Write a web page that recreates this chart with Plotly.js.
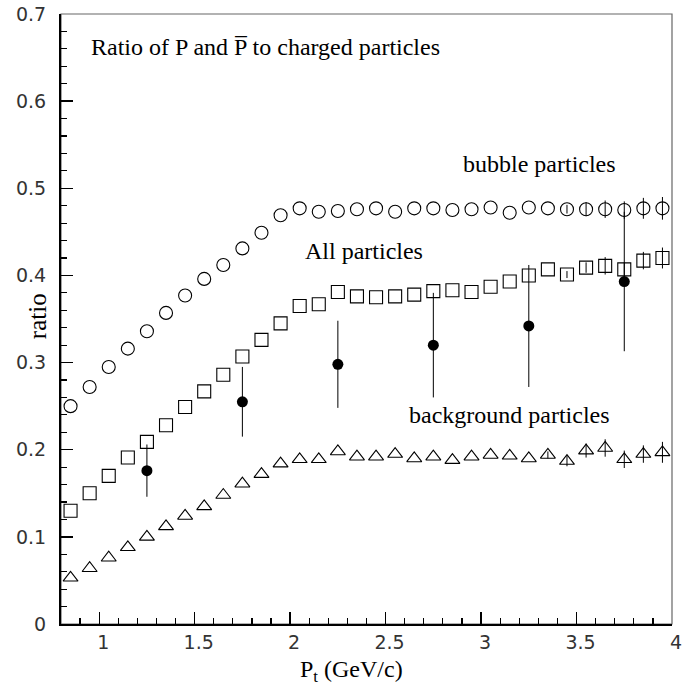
<!DOCTYPE html>
<html>
<head>
<meta charset="utf-8">
<script src="https://cdn.plot.ly/plotly-3.0.1.min.js"></script>
<style>html,body{margin:0;padding:0;background:#fff;}#chart{width:688px;height:688px;}</style>
</head>
<body>
<div id="chart"></div>
<script>
const pt = [0.85,0.95,1.05,1.15,1.25,1.35,1.45,1.55,1.65,1.75,1.85,1.95,2.05,2.15,2.25,2.35,
            2.45,2.55,2.65,2.75,2.85,2.95,3.05,3.15,3.25,3.35,3.45,3.55,3.65,3.75,3.85,3.95];
const bubble = [0.250,0.272,0.295,0.316,0.336,0.357,0.377,0.396,0.412,0.431,0.449,0.469,0.477,0.473,0.474,0.476,
                0.477,0.473,0.477,0.477,0.475,0.476,0.478,0.472,0.478,0.477,0.476,0.476,0.476,0.475,0.477,0.477];
const bubbleErr = [0,0,0,0,0,0,0,0,0,0,0,0,0,0,0,0,0,0,0,0,0,0,0,0,0,0,0.005,0.008,0.010,0.010,0.012,0.013];
const allP = [0.130,0.150,0.170,0.191,0.209,0.228,0.249,0.267,0.286,0.307,0.326,0.345,0.365,0.367,0.381,0.376,
              0.375,0.376,0.378,0.382,0.383,0.381,0.387,0.393,0.400,0.407,0.401,0.409,0.411,0.407,0.417,0.420];
const allErr = [0,0,0,0,0,0,0,0,0,0,0,0,0,0,0,0,0,0,0,0,0,0,0,0,0,0,0.004,0.006,0.010,0.008,0.010,0.012];
const background = [0.053,0.064,0.076,0.088,0.100,0.112,0.124,0.135,0.148,0.161,0.172,0.184,0.189,0.189,0.198,0.192,
                    0.192,0.195,0.190,0.192,0.188,0.192,0.194,0.193,0.190,0.194,0.187,0.199,0.202,0.189,0.195,0.197];
const backgroundErr = [0,0,0,0,0,0,0,0,0,0,0,0,0,0,0,0,0,0,0,0,0,0,0,0,0,0.004,0.006,0.008,0.010,0.010,0.010,0.012];
const ptFilled = [1.25,1.75,2.25,2.75,3.25,3.75];
const filled = [0.176,0.255,0.298,0.320,0.342,0.393];
const filledErr = [0.030,0.040,0.050,0.060,0.070,0.080];
const xTicks = [1,1.5,2,2.5,3,3.5,4];
const xTickText = ['1','1.5','2','2.5','3','3.5','4'];
const yTicks = [0,0.1,0.2,0.3,0.4,0.5,0.6,0.7];
const yTickText = ['0','0.1','0.2','0.3','0.4','0.5','0.6','0.7'];

const errStyle = (arr) => ({type:'data', array:arr, visible:true, thickness:1, width:0, color:'#000'});

const traces = [
  {x:pt, y:bubble, error_y:errStyle(bubbleErr), mode:'markers', type:'scatter', name:'bubble particles',
   marker:{symbol:'circle-open', size:13, color:'#000', line:{width:1.1, color:'#000'}}},
  {x:pt, y:allP, error_y:errStyle(allErr), mode:'markers', type:'scatter', name:'All particles',
   marker:{symbol:'square-open', size:13, color:'#000', line:{width:1.1, color:'#000'}}},
  {x:pt, y:background, error_y:errStyle(backgroundErr), mode:'markers', type:'scatter', name:'background particles',
   marker:{symbol:'triangle-up-open', size:13, color:'#000', line:{width:1.1, color:'#000'}}},
  {x:ptFilled, y:filled, error_y:errStyle(filledErr), mode:'markers', type:'scatter', name:'filled',
   marker:{symbol:'circle', size:11, color:'#000'}}
];

const tickFont = {family:'"DejaVu Sans ExtraLight", "DejaVu Sans", sans-serif', size:19, color:'#333'};
const serif = '"Liberation Serif", "Times New Roman", serif';
const txtFont = {family:serif, size:24, color:'#000'};

const layout = {
  width:688, height:688,
  margin:{l:61, r:16, t:14, b:64},
  paper_bgcolor:'#fff', plot_bgcolor:'#fff',
  showlegend:false,
  xaxis:{
    range:[0.8,4], tickvals:xTicks, ticktext:xTickText,
    ticks:'inside', ticklen:12, tickwidth:1.3, tickcolor:'#000',
    minor:{dtick:0.1, tick0:0.8, ticks:'inside', ticklen:6, tickwidth:1.2, tickcolor:'#000'},
    showline:true, linewidth:2, linecolor:'#000', showgrid:false, zeroline:false,
    tickfont:tickFont, ticklabelstandoff:0, ticklabelshift:4
  },
  yaxis:{
    range:[0,0.7], tickvals:yTicks, ticktext:yTickText,
    ticks:'inside', ticklen:12, tickwidth:1.3, tickcolor:'#000',
    minor:{dtick:0.02, tick0:0, ticks:'inside', ticklen:6, tickwidth:1.2, tickcolor:'#000'},
    showline:true, linewidth:2, linecolor:'#000', showgrid:false, zeroline:false,
    tickfont:tickFont, ticklabelstandoff:9
  },
  shapes:[
    {type:'rect', xref:'paper', yref:'paper', x0:0, x1:1, y0:0, y1:1, line:{color:'#666', width:1.2}, layer:'below'}
  ],
  annotations:[
    {text:'Ratio of P and P\u0305 to charged particles', xref:'x', yref:'y', x:0.947, y:0.662, xanchor:'left', yanchor:'middle',
     showarrow:false, font:txtFont},
    {text:'bubble particles', xref:'x', yref:'y', x:2.894, y:0.528, xanchor:'left', yanchor:'middle',
     showarrow:false, font:txtFont},
    {text:'All particles', xref:'x', yref:'y', x:2.067, y:0.428, xanchor:'left', yanchor:'middle',
     showarrow:false, font:txtFont},
    {text:'background particles', xref:'x', yref:'y', x:2.611, y:0.240, xanchor:'left', yanchor:'middle',
     showarrow:false, font:txtFont},
    {text:'P<sub>t</sub> (GeV/c)', xref:'paper', yref:'paper', x:0.475, y:-0.077, xanchor:'center', yanchor:'middle',
     showarrow:false, font:txtFont},
    {text:'ratio', xref:'paper', yref:'y', x:-0.038, y:0.353, xanchor:'center', yanchor:'middle', textangle:-90,
     showarrow:false, font:{family:serif, size:25, color:'#000'}}
  ]
};

Plotly.newPlot('chart', traces, layout, {displayModeBar:false, staticPlot:true});
</script>
</body>
</html>
